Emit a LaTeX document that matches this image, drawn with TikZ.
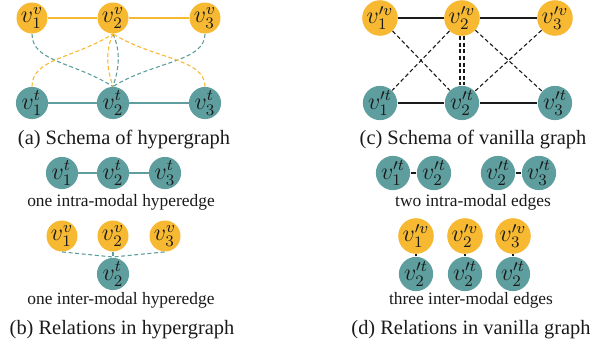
\documentclass[tikz,border=0pt]{standalone}
\usepackage{fontspec}
\setmainfont{Liberation Serif}
\usetikzlibrary{positioning}
\definecolor{cGold}{HTML}{F7B932}
\definecolor{cTeal}{HTML}{5E9E9E}
\definecolor{cInk}{HTML}{1A1A1A}

\begin{document}
\begin{tikzpicture}[
  x=0.5pt,y=-0.5pt,
  vnode/.style={circle,fill=cGold,minimum size=15.5pt,inner sep=0pt,
                text=cInk,font=\fontsize{12}{12}\selectfont},
  tnode/.style={vnode,fill=cTeal},
  capt/.style={font=\fontsize{10.2}{12}\selectfont,text=cInk},
  subcapt/.style={font=\fontsize{8.7}{10}\selectfont,text=cInk},
  vline/.style={cGold,line width=0.7pt},
  tline/.style={cTeal,line width=0.7pt},
  kline/.style={cInk,line width=0.7pt},
  vdash/.style={cGold,line width=0.55pt,dash pattern=on 2pt off 1.3pt},
  tdash/.style={cTeal,line width=0.55pt,dash pattern=on 2pt off 1.3pt},
  kdash/.style={cInk,line width=0.55pt,dash pattern=on 2pt off 1.3pt}
]
\useasboundingbox (0,0) rectangle (602,344);

% (a) schema of hypergraph
\node[vnode] (a1v) at (32,18)  {$v_1^v$};
\node[vnode] (a2v) at (113,18) {$v_2^v$};
\node[vnode] (a3v) at (205,18) {$v_3^v$};
\node[tnode] (a1t) at (32,103)  {$v_1^t$};
\node[tnode] (a2t) at (113,103) {$v_2^t$};
\node[tnode] (a3t) at (205,103) {$v_3^t$};

\draw[vline] (a1v) -- (a2v) -- (a3v);
\draw[tline] (a1t) -- (a2t) -- (a3t);
\draw[tdash] (a1v.south) .. controls +(0,28) and +(-40,-25) .. (a2t.north);
\draw[tdash] (a3v.south) .. controls +(0,28) and +(40,-25) .. (a2t.north);
\draw[tdash] (a2v.south) .. controls +(8,18) and +(6,-18) .. (a2t.north);
\draw[vdash] (a1t.north) .. controls +(0,-28) and +(-40,25) .. (a2v.south);
\draw[vdash] (a3t.north) .. controls +(0,-28) and +(40,25) .. (a2v.south);
\draw[vdash] (a2v.south) .. controls +(-8,18) and +(-6,-18) .. (a2t.north);

\node[capt] (capa) at (124,140) {(a) Schema of hypergraph};

% (c) schema of vanilla graph
\node[vnode] (c1v) at (380,18) {$v'^{v}_{1}$};
\node[vnode] (c2v) at (462,18) {$v'^{v}_{2}$};
\node[vnode] (c3v) at (555,18) {$v'^{v}_{3}$};
\node[tnode] (c1t) at (380,103) {$v'^{t}_{1}$};
\node[tnode] (c2t) at (462,103) {$v'^{t}_{2}$};
\node[tnode] (c3t) at (555,103) {$v'^{t}_{3}$};

\draw[kline] (c1v) -- (c2v) -- (c3v);
\draw[kline] (c1t) -- (c2t) -- (c3t);
\draw[kdash] (c1v) -- (c2t);
\draw[kdash] (c2v) -- (c1t);
\draw[kdash] (c2v) -- (c3t);
\draw[kdash] (c3v) -- (c2t);
\draw[kdash] ([xshift=-1pt]c2v.south) -- ([xshift=-1pt]c2t.north);
\draw[kdash] ([xshift=1pt]c2v.south) -- ([xshift=1pt]c2t.north);

\node[capt] (capc) at (473,140) {(c) Schema of vanilla graph};

% (b) relations in hypergraph
\node[tnode] (b1t) at (62,173)  {$v_1^t$};
\node[tnode] (b2t) at (113,173) {$v_2^t$};
\node[tnode] (b3t) at (165,173) {$v_3^t$};
\draw[tline] (b1t) -- (b2t) -- (b3t);
\node[subcapt] (intrab) at (121,202) {one intra-modal hyperedge};

\node[vnode] (b1v) at (62,236)  {$v_1^v$};
\node[vnode] (b2v) at (113,236) {$v_2^v$};
\node[vnode] (b3v) at (165,236) {$v_3^v$};
\node[tnode] (b4t) at (113,274) {$v_2^t$};
\coordinate (hub) at (113,257);
\draw[tdash] (b1v.south) -- (hub) -- (b3v.south);
\draw[tdash] (b2v) -- (b4t);
\node[subcapt] (interb) at (121,300) {one inter-modal hyperedge};

\node[capt] (capb) at (122,330) {(b) Relations in hypergraph};

% (d) relations in vanilla graph
\node[tnode] (d1t) at (393,173) {$v'^{t}_{1}$};
\node[tnode] (d2t) at (434,173) {$v'^{t}_{2}$};
\node[tnode] (d3t) at (498,173) {$v'^{t}_{2}$};
\node[tnode] (d4t) at (539,173) {$v'^{t}_{3}$};
\draw[kline] (d1t) -- (d2t);
\draw[kline] (d3t) -- (d4t);
\node[subcapt] (intrad) at (473,202) {two intra-modal edges};

\node[vnode] (d1v) at (416,236) {$v'^{v}_{1}$};
\node[vnode] (d2v) at (465,236) {$v'^{v}_{2}$};
\node[vnode] (d3v) at (513,236) {$v'^{v}_{3}$};
\node[tnode] (d5t) at (416,274) {$v'^{t}_{2}$};
\node[tnode] (d6t) at (465,274) {$v'^{t}_{2}$};
\node[tnode] (d7t) at (513,274) {$v'^{t}_{2}$};
\draw[kdash] (d1v) -- (d5t);
\draw[kdash] (d2v) -- (d6t);
\draw[kdash] (d3v) -- (d7t);
\node[subcapt] (interd) at (471,300) {three inter-modal edges};

\node[capt] (capd) at (471,330) {(d) Relations in vanilla graph};

\end{tikzpicture}
\end{document}
